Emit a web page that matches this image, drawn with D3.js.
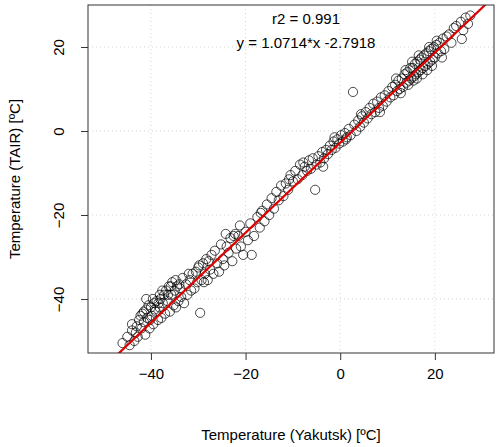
<!DOCTYPE html>
<html><head><meta charset="utf-8">
<script src="https://cdn.jsdelivr.net/npm/d3@7"></script>
<style>body{margin:0;background:#fff}text{font-family:"Liberation Sans",Arial,sans-serif}</style>
</head><body><svg id="c" width="500" height="447"></svg>
<script>
const xTicks=[-40,-20,0,20];
const yTicks=[-40,-20,0,20];
const slope=1.0714, intercept=-2.7918;
const title1="r2 =  0.991", title2="y = 1.0714*x -2.7918";
const xLabel="Temperature (Yakutsk) [ºC]", yLabel="Temperature (TAIR) [ºC]";
const points=[[-46,-50.5],[-45,-49],[-44.5,-51],[-44,-47.5],[-43.5,-50],[-43,-46.5],[-42.8,-49],[-42.5,-45],[-42,-47],[-41.8,-43.5],[-41.5,-45.5],[-41.2,-48.5],[-41,-42.5],[-40.8,-44.5],[-40.5,-41.5],[-40.3,-47],[-40,-42],[-39.8,-44],[-39.5,-46],[-39.3,-41],[-39,-43],[-38.8,-40.5],[-38.5,-45],[-38.2,-42],[-38,-40],[-37.8,-44.5],[-37.5,-41],[-37.2,-39],[-37,-43.5],[-36.8,-38],[-36.5,-40.5],[-36.2,-37],[-36,-43],[-35.7,-39],[-35.5,-36],[-35.2,-41.5],[-35,-38],[-34.7,-42],[-34.5,-37],[-34.2,-40.5],[-34,-36.5],[-33.6,-39.5],[-33.3,-35],[-33,-41],[-32.6,-36.5],[-32.3,-39],[-32,-34],[-31.5,-38],[-31.2,-34],[-30.8,-37.5],[-30.5,-33.5],[-30.2,-36],[-30,-32.5],[-29.6,-43.3],[-29.3,-35.5],[-29,-31.5],[-28.6,-34],[-28.3,-30.5],[-28,-35.5],[-27.5,-33],[-27.2,-29.5],[-26.8,-34],[-26.5,-28.5],[-26,-31.5],[-25.6,-33.5],[-25.2,-27],[-24.8,-30.5],[-24.5,-32],[-24,-27.5],[-23.6,-29],[-23.2,-25.5],[-22.8,-31],[-22.5,-25],[-22,-28],[-21.5,-25],[-21,-27.5],[-20.5,-29.5],[-20,-24],[-19.5,-26],[-19,-22],[-18.7,-29.5],[-18.2,-25],[-17.5,-20.5],[-17,-23],[-16.5,-19],[-16,-21.5],[-15.5,-17.5],[-15,-20],[-14.5,-16],[-14,-18.5],[-13.5,-14.5],[-13,-16.5],[-12.5,-13],[-12,-15.5],[-11.5,-12.5],[-11,-14],[-10.5,-10.5],[-10,-12],[-9.5,-9.5],[-9,-11.5],[-8.5,-8],[-8,-10.5],[-7.5,-8.5],[-7,-9.5],[-6.6,-7],[-6.2,-9],[-5.8,-6.5],[-5.3,-14],[-5,-8],[-4.6,-6],[-4.2,-7.5],[-3.8,-5],[-3.4,-6.5],[-3,-4.5],[-2.6,-5.5],[-2.2,-3.5],[-1.8,-4.5],[-1.4,-2.5],[-1,-4],[-0.6,-2],[-0.2,-3],[0.2,-1],[0.6,-2.5],[1,-0.5],[1.4,-1.5],[1.8,0.5],[2.2,-1],[2.7,9.3],[3,1.5],[3.4,0],[3.8,2.5],[4.2,1],[4.6,3.5],[5,2],[5.4,4.5],[5.8,3],[6.2,5.5],[6.6,4],[7,6.5],[7.4,4.5],[7.8,7],[8.2,5.5],[8.6,8],[9,6],[9.4,8.5],[9.8,7],[10.2,9.5],[10.6,8],[11,10.5],[11.3,8.5],[11.6,11],[12,9.5],[12.3,12],[12.6,10],[13,12.5],[13.3,10.5],[13.6,13.5],[14,11.5],[14.2,14],[14.5,12],[14.8,15],[15,12.5],[15.3,15],[15.6,13],[15.8,16],[16,13.5],[16.3,16.5],[16.5,14],[16.8,17],[17,14.5],[17.2,17.5],[17.5,15],[17.7,18],[18,15.5],[18.2,18.5],[18.5,16],[18.7,19],[19,16.5],[19.2,19.5],[19.5,17],[19.8,20],[20,17.5],[20.3,20.5],[20.6,18.5],[21,21],[21.3,19],[21.7,22],[22,19.5],[22.5,22.5],[23,23],[23.5,21],[24,24.5],[24.5,25],[25.7,21.9],[25.5,26],[26,24],[26.5,27],[27,25.5],[27.5,27.5],[-41.5,-43],[-40.2,-45],[-39.2,-42.5],[-38.4,-41],[-37.6,-38],[-36.4,-39],[-43.2,-48],[-42.2,-44],[-39.6,-40],[-38.1,-39],[-35.8,-37],[-34.8,-35.5],[-33.8,-37.5],[-31.8,-35.5],[-29.8,-32],[-28.8,-36],[-27.8,-31],[-24.2,-24.5],[-22.2,-24.5],[-21.2,-22.5],[-16.8,-19.5],[-10.8,-11.5],[-7.8,-7.5],[-3.6,-8.5],[-1.2,-1.5],[1.2,-2],[4.4,4],[8.4,4.5],[11.8,12.5],[12.8,9],[13.8,14.5],[14.4,11],[15.2,16.5],[16.2,12.5],[17.4,13.5],[18.4,14.5],[19.4,15.5],[20.4,21.5],[21.5,17.5],[15.5,12],[16.6,18],[18.8,20],[-44,-46],[-41,-40]];
const L=88,R=494,T=5,B=353;
const x=d3.scaleLinear().domain([-53.3,32.5]).range([L,R]);
const y=d3.scaleLinear().domain([-52.86,30]).range([B,T]);
const svg=d3.select("#c");
svg.append("defs").append("clipPath").attr("id","cp").append("rect").attr("x",L).attr("y",T).attr("width",R-L).attr("height",B-T);
const g=svg.append("g");
xTicks.forEach(t=>g.append("line").attr("x1",x(t)).attr("x2",x(t)).attr("y1",T).attr("y2",B).attr("stroke","#d3d3d3").attr("stroke-dasharray","1,3"));
yTicks.forEach(t=>g.append("line").attr("y1",y(t)).attr("y2",y(t)).attr("x1",L).attr("x2",R).attr("stroke","#d3d3d3").attr("stroke-dasharray","1,3"));
g.append("g").attr("clip-path","url(#cp)").selectAll("circle").data(points).join("circle")
 .attr("cx",d=>x(d[0])).attr("cy",d=>y(d[1])).attr("r",4.6).attr("fill","none").attr("stroke","rgba(0,0,0,0.7)").attr("stroke-width",1);
g.append("line").attr("clip-path","url(#cp)").attr("x1",x(-60)).attr("y1",y(slope*-60+intercept)).attr("x2",x(40)).attr("y2",y(slope*40+intercept)).attr("stroke","#e00000").attr("stroke-width",2.2);
g.append("rect").attr("x",L).attr("y",T).attr("width",R-L).attr("height",B-T).attr("fill","none").attr("stroke","#333").attr("stroke-width",1);
const fmt=d=>d<0?"\u2212"+(-d):d;
const xa=svg.append("g").attr("transform",`translate(0,${B})`).call(d3.axisBottom(x).tickValues(xTicks).tickSize(7).tickFormat(fmt));
xa.select(".domain").remove();
xa.selectAll("line").attr("stroke","#333");
xa.selectAll("text").attr("font-size",15).attr("y",12).attr("dy","0.9em").attr("fill","#000");
const ya=svg.append("g").attr("transform",`translate(${L},0)`).call(d3.axisLeft(y).tickValues(yTicks).tickSize(7).tickFormat(fmt));
ya.select(".domain").remove();
ya.selectAll("line").attr("stroke","#333");
ya.selectAll("text").attr("font-size",15).attr("text-anchor","middle").attr("x",0).attr("fill","#000")
 .attr("transform","translate(-24,0) rotate(-90)").attr("dy","0em");
svg.append("text").attr("x",306).attr("y",24).attr("text-anchor","middle").attr("font-size",15).text(title1);
svg.append("text").attr("x",306).attr("y",48).attr("text-anchor","middle").attr("font-size",15).text(title2);
svg.append("text").attr("x",(L+R)/2).attr("y",440).attr("text-anchor","middle").attr("font-size",15).text(xLabel);
svg.append("text").attr("transform",`translate(20,${(T+B)/2}) rotate(-90)`).attr("text-anchor","middle").attr("font-size",15).text(yLabel);
</script></body></html>
